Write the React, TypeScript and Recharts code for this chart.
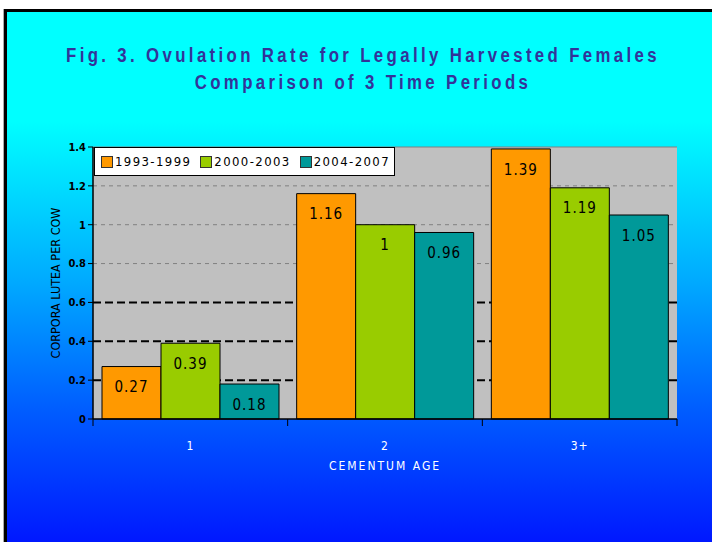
import { BarChart, Bar, XAxis, YAxis, CartesianGrid, LabelList } from 'recharts';

const categories = ['1', '2', '3+'];
const period1 = [0.27, 1.16, 1.39];
const period2 = [0.39, 1.0, 1.19];
const period3 = [0.18, 0.96, 1.05];
const seriesNames = ['1993-1999', '2000-2003', '2004-2007'];
const yTicks = [0, 0.2, 0.4, 0.6, 0.8, 1, 1.2, 1.4];
const boldGrid = [0.2, 0.4, 0.6];
const lightGrid = [0.8, 1, 1.2];

const COLORS = ['#ff9900', '#99cc00', '#009999'];
const FONT = "'DejaVu Sans Condensed', Arial, sans-serif";
const HTML_FONT = "'Liberation Sans', Arial, sans-serif";

const data = categories.map((c, i) => ({
  cat: c,
  p1: period1[i],
  p2: period2[i],
  p3: period3[i],
}));
const keys = ['p1', 'p2', 'p3'];

const PLOT_LEFT = 93;
const PLOT_RIGHT = 677;
const BAND = (PLOT_RIGHT - PLOT_LEFT) / categories.length;

function XTick(props: any) {
  const { x, y, payload, index } = props;
  const last = index === categories.length - 1;
  return (
    <g>
      <line x1={x - BAND / 2} x2={x - BAND / 2} y1={y - 8} y2={y - 1} stroke="#000" />
      {last && <line x1={x + BAND / 2} x2={x + BAND / 2} y1={y - 8} y2={y - 1} stroke="#000" />}
      <text x={x} y={y + 23} textAnchor="middle" fill="#fff" fontSize={12} fontFamily={FONT} letterSpacing={1}>
        {payload.value}
      </text>
    </g>
  );
}

export default function App() {
  return (
    <div style={{ position: 'fixed', left: 0, top: 0, width: 712, height: 542, overflow: 'hidden', background: '#fff' }}>
      <div
        style={{
          position: 'absolute',
          left: 4,
          top: 9,
          width: 720,
          height: 545,
          borderLeft: '3px solid #000',
          borderTop: '3px solid #000',
          boxShadow: '-1px 0 0 #aaa',
          background: 'linear-gradient(#00ffff 0%, #00ffff 20%, #00a8ff 50%, #0060ff 72%, #0010ff 100%)',
        }}
      />
      <div
        style={{
          position: 'absolute',
          left: 0,
          top: 42,
          width: 726,
          textAlign: 'center',
          color: '#333399',
          fontFamily: HTML_FONT,
          fontWeight: 'bold',
          fontSize: 20,
          letterSpacing: 4,
          lineHeight: '27px',
          transform: 'scaleX(0.84)',
          whiteSpace: 'nowrap',
        }}
      >
        Fig. 3. Ovulation Rate for Legally Harvested Females
        <br />
        Comparison of 3 Time Periods
      </div>
      <div style={{ position: 'absolute', left: 0, top: 0 }}>
        <BarChart
          width={712}
          height={542}
          data={data}
          margin={{ top: 147, right: 712 - PLOT_RIGHT, bottom: 93, left: PLOT_LEFT - 40 }}
          barCategoryGap={9}
          barGap={0}
        >
          <CartesianGrid fill="#c0c0c0" horizontal={false} vertical={false} />
          <CartesianGrid
            vertical={false}
            horizontalValues={lightGrid}
            stroke="#808080"
            strokeDasharray="4 4"
          />
          <CartesianGrid
            vertical={false}
            horizontalValues={boldGrid}
            stroke="#000"
            strokeWidth={2}
            strokeDasharray="8 4"
          />
          <CartesianGrid vertical={false} horizontalValues={[1.4]} stroke="#808080" />
          <XAxis
            dataKey="cat"
            height={30}
            axisLine={{ stroke: '#000', strokeWidth: 1.5 }}
            tickLine={false}
            tick={<XTick />}
            interval={0}
          />
          <YAxis
            width={40}
            domain={[0, 1.4]}
            ticks={yTicks}
            axisLine={{ stroke: '#000', strokeWidth: 1.5 }}
            tickLine={{ stroke: '#000' }}
            tickSize={5}
            tick={{ fill: '#000', fontSize: 11, fontWeight: 'bold', fontFamily: FONT }}
            label={{
              value: 'CORPORA LUTEA PER COW',
              angle: -90,
              position: 'insideLeft',
              offset: 0,
              dx: 3,
              style: { fill: '#000', fontSize: 12.5, fontFamily: FONT, textAnchor: 'middle' },
            }}
          />
          <YAxis yAxisId="r" orientation="right" width={0} tick={false} axisLine={{ stroke: '#808080' }} />
          {keys.map((k, i) => (
            <Bar key={k} dataKey={k} name={seriesNames[i]} fill={COLORS[i]} stroke="#000" strokeWidth={1} isAnimationActive={false}>
              <LabelList
                dataKey={k}
                position="insideTop"
                offset={15}
                fill="#000"
                fontSize={15}
                fontFamily={FONT}
                letterSpacing={1}
              />
            </Bar>
          ))}
        </BarChart>
      </div>
      <div
        style={{
          position: 'absolute',
          left: 94,
          top: 147,
          width: 301,
          height: 29,
          background: '#fff',
          border: '1px solid #000',
          display: 'flex',
          alignItems: 'center',
          paddingLeft: 6,
          boxSizing: 'border-box',
          fontFamily: FONT,
          fontSize: 13,
          letterSpacing: 1.4,
          color: '#000',
          whiteSpace: 'nowrap',
        }}
      >
        {seriesNames.map((n, i) => (
          <span key={n} style={{ display: 'flex', alignItems: 'center', marginRight: 9 }}>
            <span style={{ width: 10, height: 10, background: COLORS[i], border: '1px solid #333', marginRight: 2 }} />
            {n}
          </span>
        ))}
      </div>
      <div
        style={{
          position: 'absolute',
          left: 0,
          top: 459,
          width: 770,
          textAlign: 'center',
          color: '#fff',
          fontFamily: FONT,
          fontSize: 12,
          letterSpacing: 2,
        }}
      >
        CEMENTUM AGE
      </div>
    </div>
  );
}
